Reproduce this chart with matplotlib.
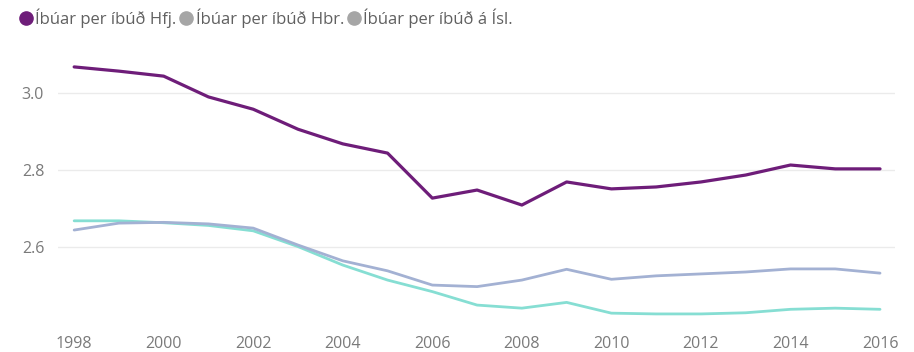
import matplotlib
matplotlib.use("Agg")
import matplotlib.pyplot as plt
from matplotlib.lines import Line2D

# Íbúar per íbúð, 1998-2016
years = list(range(1998, 2017))
hfj = [3.068, 3.057, 3.044, 2.990, 2.958, 2.906, 2.868, 2.844, 2.727, 2.748,
       2.709, 2.769, 2.751, 2.756, 2.769, 2.787, 2.813, 2.803, 2.803]
hbr = [2.644, 2.662, 2.664, 2.660, 2.649, 2.605, 2.564, 2.538, 2.501, 2.497,
       2.514, 2.542, 2.516, 2.525, 2.530, 2.535, 2.543, 2.543, 2.532]
isl = [2.668, 2.668, 2.663, 2.656, 2.642, 2.601, 2.553, 2.514, 2.484, 2.449,
       2.441, 2.456, 2.428, 2.426, 2.426, 2.429, 2.438, 2.441, 2.438]
labels = ["Íbúar per íbúð Hfj.", "Íbúar per íbúð Hbr.", "Íbúar per íbúð á Ísl."]
xticks = list(range(1998, 2017, 2))
yticks = [2.6, 2.8, 3.0]

plt.rcParams['font.family'] = ['Open Sans', 'DejaVu Sans']

fig = plt.figure(figsize=(9.14, 3.52), dpi=100)
ax = fig.add_axes([0.0635, 0.0852, 0.9155, 0.7728])

ax.plot(years, isl, color='#86DED3', lw=2.0, solid_capstyle='round', zorder=3)
ax.plot(years, hbr, color='#A3B1D3', lw=2.0, solid_capstyle='round', zorder=3)
ax.plot(years, hfj, color='#6E1D79', lw=2.3, solid_capstyle='round', zorder=4)

ax.set_xlim(1997.64, 2016.33)
ax.set_ylim(2.405, 3.112)
ax.set_xticks(xticks)
ax.set_yticks(yticks)
ax.set_yticklabels([f"{v:.1f}" for v in yticks])
ax.tick_params(length=0, labelsize=11.5, colors='#7a7a7a', pad=10)
ax.tick_params(axis='y', pad=10)
ax.grid(axis='y', color='#ebebeb', lw=1)
ax.set_axisbelow(True)
for s in ax.spines.values():
    s.set_visible(False)

handles = [Line2D([], [], marker='o', ls='none', ms=9.5, color=c)
           for c in ['#6E1D79', '#a6a6a6', '#a6a6a6']]
fig.legend(handles, labels, loc='upper left', bbox_to_anchor=(0.011, 1.0),
           ncol=3, frameon=False, handletextpad=0.12, columnspacing=0.12,
           handlelength=0.9, fontsize=12, labelcolor='#606060',
           borderaxespad=0.1)

fig.savefig("out.png", dpi=100)
